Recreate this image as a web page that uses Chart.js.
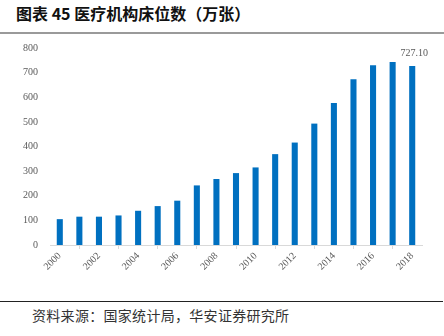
<!DOCTYPE html>
<html>
<head>
<meta charset="utf-8">
<script src="https://cdn.jsdelivr.net/npm/chart.js@4.4.1/dist/chart.umd.min.js"></script>
<style>
  body { margin: 0; width: 444px; height: 336px; background: #fff; position: relative; overflow: hidden; }
  .title { position: absolute; left: 16px; top: 1px; font: bold 16px "Noto Sans CJK SC", sans-serif; color: #111; white-space: nowrap; }
  .tline { position: absolute; left: 0; top: 32px; width: 444px; height: 2px; background: #9a9a9a; }
  .fline { position: absolute; left: 0; top: 301px; width: 443px; height: 1px; background: #222; }
  .source { position: absolute; left: 32px; top: 305px; font: 14px "Noto Sans CJK SC", sans-serif; letter-spacing: 0.3px; color: #333; white-space: nowrap; }
  .wrap { position: absolute; left: 0; top: 30px; width: 444px; height: 256px; }
</style>
</head>
<body>
<div class="title">图表 45 医疗机构床位数（万张）</div>
<div class="tline"></div>
<div class="wrap"><canvas id="bedChart"></canvas></div>
<div class="fline"></div>
<div class="source">资料来源：国家统计局，华安证券研究所</div>
<script>
const years = ['2000','2001','2002','2003','2004','2005','2006','2007','2008','2009',
               '2010','2011','2012','2013','2014','2015','2016','2017','2018'];
const beds = [105, 115, 115, 120, 139, 158, 180, 242, 268, 292,
              315, 369, 416, 493, 577, 673, 730, 743, 727.10];
const lastLabel = '727.10';

// value label above the last bar only
const labelLast = {
  id: 'labelLast',
  afterDatasetsDraw(chart) {
    const bars = chart.getDatasetMeta(0).data;
    const bar = bars[bars.length - 1];
    const c = chart.ctx;
    c.save();
    c.font = '10px "Liberation Serif"';
    c.fillStyle = '#595959';
    c.textAlign = 'center';
    c.textBaseline = 'bottom';
    c.fillText(lastLabel, bar.x + 2, bar.y - 8);
    c.restore();
  }
};

const ctx = document.getElementById('bedChart').getContext('2d');
new Chart(ctx, {
  type: 'bar',
  data: {
    labels: years,
    datasets: [{
      data: beds,
      backgroundColor: '#0070c0',
      borderWidth: 0,
      barPercentage: 0.62,
      categoryPercentage: 0.5
    }]
  },
  options: {
    responsive: true,
    maintainAspectRatio: false,
    animation: false,
    layout: { padding: { top: 8, right: 22, left: 0, bottom: 0 } },
    plugins: { legend: { display: false }, tooltip: { enabled: false } },
    scales: {
      x: {
        afterFit(s) { s.height = 41; },
        grid: { drawOnChartArea: false, drawTicks: true, tickLength: 4, color: '#d9d9d9', offset: true },
        border: { color: '#d9d9d9', width: 1 },
        ticks: {
          autoSkip: false,
          maxRotation: 45,
          minRotation: 45,
          padding: 1,
          color: '#595959',
          font: { family: 'Liberation Serif', size: 10 },
          callback(v, i) { return i % 2 === 0 ? years[i] : null; }
        }
      },
      y: {
        min: 0,
        max: 800,
        afterFit(s) { s.width = 50; },
        grid: { display: false, drawTicks: false },
        border: { display: false },
        ticks: {
          stepSize: 100,
          padding: 12,
          color: '#595959',
          font: { family: 'Liberation Serif', size: 10 }
        }
      }
    }
  },
  plugins: [labelLast]
});
</script>
</body>
</html>
